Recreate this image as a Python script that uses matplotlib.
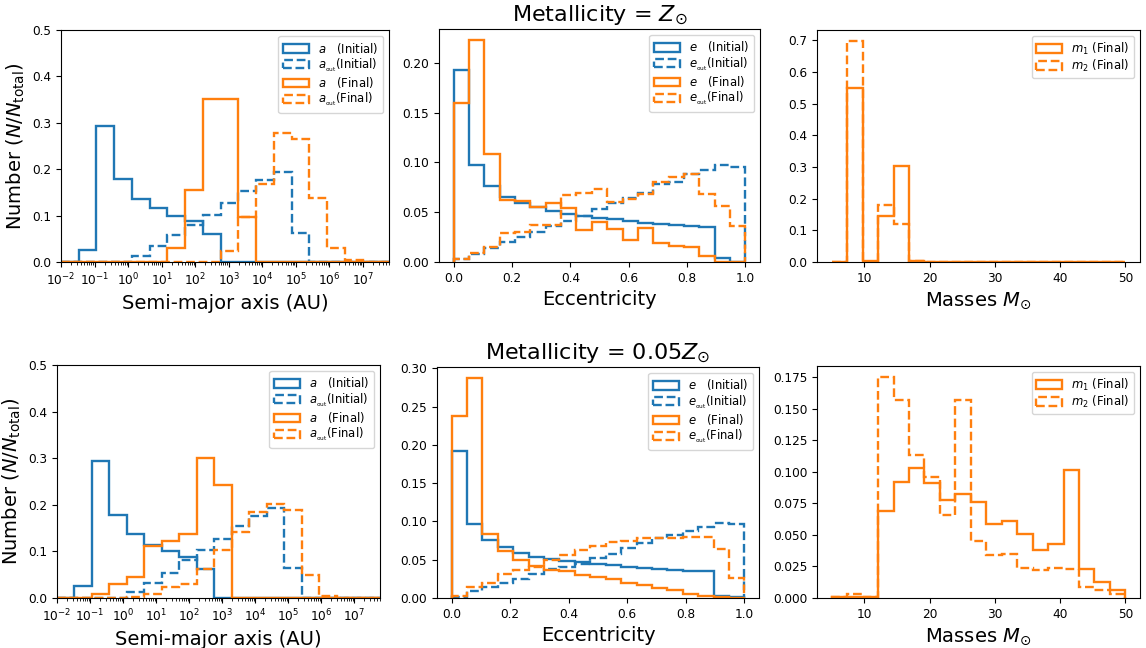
import numpy as np
import matplotlib
matplotlib.use("Agg")
import matplotlib.pyplot as plt
from matplotlib.ticker import LogLocator, NullFormatter

# bin edges (19 bins in every panel)
a_bins = np.logspace(-2, 8.05, 20)
e_bins = np.linspace(0, 1, 20)
m_bins = np.linspace(5, 50, 20)

# ---- Metallicity = Z_sun ----
a_init_sol = [0, 0.025, 0.294, 0.178, 0.135, 0.117, 0.099, 0.088, 0.060, 0, 0, 0, 0, 0, 0, 0, 0, 0, 0]
aout_init_sol = [0, 0, 0, 0.001, 0.013, 0.034, 0.058, 0.080, 0.102, 0.127, 0.153, 0.176, 0.194, 0.063, 0, 0, 0, 0, 0]
a_fin_sol = [0, 0, 0, 0, 0, 0, 0.03, 0.155, 0.352, 0.352, 0.096, 0, 0, 0, 0, 0, 0, 0, 0]
aout_fin_sol = [0, 0, 0, 0, 0, 0, 0, 0, 0, 0.024, 0.097, 0.169, 0.277, 0.265, 0.138, 0.031, 0.004, 0, 0]

e_init_sol = [0.193, 0.097, 0.0765, 0.0657, 0.0597, 0.0547, 0.0516, 0.048, 0.046, 0.044, 0.0427, 0.041,
              0.0396, 0.038, 0.0372, 0.036, 0.035, 0.0037, 0]
eout_init_sol = [0.003, 0.0077, 0.0137, 0.0204, 0.0255, 0.030, 0.036, 0.0416, 0.0463, 0.053, 0.0597, 0.064,
                 0.069, 0.078, 0.080, 0.088, 0.092, 0.0976, 0.095]
e_fin_sol = [0.1596, 0.2227, 0.1083, 0.0624, 0.0612, 0.0547, 0.059, 0.054, 0.032, 0.040, 0.033, 0.022,
             0.034, 0.0188, 0.0164, 0.0154, 0.006, 0, 0]
eout_fin_sol = [0.003, 0.0087, 0.0154, 0.0288, 0.0305, 0.037, 0.037, 0.0674, 0.069, 0.0734, 0.060, 0.063,
                0.068, 0.0805, 0.0855, 0.088, 0.068, 0.0563, 0.0362]

m1_sol = [0, 0.549, 0.002, 0.145, 0.302, 0.002, 0, 0, 0, 0, 0, 0, 0, 0, 0, 0, 0, 0, 0]
m2_sol = [0, 0.698, 0, 0.181, 0.119, 0.002, 0, 0, 0, 0, 0, 0, 0, 0, 0, 0, 0, 0, 0]

# ---- Metallicity = 0.05 Z_sun ----
a_init_low = [0, 0.025, 0.293, 0.178, 0.137, 0.114, 0.101, 0.0885, 0.0626, 0, 0, 0, 0, 0, 0, 0, 0, 0, 0]
aout_init_low = [0, 0, 0, 0.001, 0.0137, 0.032, 0.054, 0.0806, 0.103, 0.126, 0.155, 0.176, 0.194, 0.064, 0, 0, 0, 0, 0]
a_fin_low = [0, 0, 0.009, 0.031, 0.045, 0.111, 0.123, 0.137, 0.300, 0.2425, 0, 0, 0, 0, 0, 0, 0, 0, 0]
aout_fin_low = [0, 0, 0, 0.001, 0.002, 0.009, 0.023, 0.0295, 0.0626, 0.102, 0.142, 0.185, 0.202, 0.188, 0.050,
                0.0036, 0, 0, 0]

e_init_low = [0.192, 0.0966, 0.076, 0.067, 0.059, 0.053, 0.0507, 0.0477, 0.0466, 0.045, 0.0425, 0.040,
              0.0387, 0.0376, 0.037, 0.0356, 0.0347, 0.003, 0.001]
eout_init_low = [0.0013, 0.009, 0.0145, 0.019, 0.025, 0.031, 0.038, 0.0411, 0.0445, 0.052, 0.057, 0.065,
                 0.072, 0.0785, 0.082, 0.0872, 0.093, 0.0976, 0.097]
e_fin_low = [0.2375, 0.2874, 0.0836, 0.062, 0.0495, 0.0418, 0.037, 0.035, 0.0295, 0.0275, 0.025, 0.0195,
             0.0175, 0.0125, 0.011, 0.005, 0.0025, 0.001, 0.0006]
eout_fin_low = [0.002, 0.0139, 0.0195, 0.031, 0.037, 0.041, 0.050, 0.056, 0.0628, 0.068, 0.0737, 0.075,
                0.078, 0.079, 0.078, 0.080, 0.080, 0.064, 0.026]

m1_low = [0.0005, 0.001, 0.001, 0.069, 0.0915, 0.103, 0.091, 0.0777, 0.0825, 0.076, 0.059, 0.061,
          0.051, 0.038, 0.043, 0.101, 0.023, 0.0127, 0.0066]
m2_low = [0.0005, 0.003, 0.001, 0.175, 0.157, 0.113, 0.0957, 0.0655, 0.157, 0.0455, 0.034, 0.035,
          0.0235, 0.022, 0.024, 0.023, 0.009, 0.006, 0.003]

titles = [r"Metallicity = $Z_{\odot}$", r"Metallicity = $0.05Z_{\odot}$"]

BLUE = "#1f77b4"
ORANGE = "#ff7f0e"
LW = 1.7
W, H = 1146, 648

fig = plt.figure(figsize=(W / 100, H / 100), dpi=100)


def add_ax(x0, x1, y0, y1):
    # box given in pixels, y measured from the top
    return fig.add_axes([x0 / W, (H - y1) / H, (x1 - x0) / W, (y1 - y0) / H])


def step(ax, vals, bins, color, ls, label, log=False):
    if log:
        mids = np.sqrt(bins[:-1] * bins[1:])
    else:
        mids = 0.5 * (bins[:-1] + bins[1:])
    ax.hist(mids, bins=bins, weights=vals, histtype="step", color=color,
            ls=ls, lw=LW, label=label)


def legend(ax):
    ax.legend(loc="upper right", fontsize=8.4, labelspacing=0.08, borderpad=0.4,
              handlelength=2.2)


def a_panel(ax, ai, ao, af, aof):
    ax.set_xscale("log")
    step(ax, ai, a_bins, BLUE, "-", r"$a$   (Initial)", log=True)
    step(ax, ao, a_bins, BLUE, "--", r"$a_{_{\rm out}}$(Initial)", log=True)
    step(ax, af, a_bins, ORANGE, "-", r"$a$   (Final)", log=True)
    step(ax, aof, a_bins, ORANGE, "--", r"$a_{_{\rm out}}$(Final)", log=True)
    ax.set_xlim(1e-2, 10 ** 7.78)
    ax.set_ylim(0, 0.5)
    ax.xaxis.set_major_locator(LogLocator(base=10, numticks=30))
    ax.xaxis.set_minor_locator(LogLocator(base=10, subs=np.arange(2, 10), numticks=30))
    ax.xaxis.set_minor_formatter(NullFormatter())
    ax.set_xlabel("Semi-major axis (AU)", fontsize=14)
    ax.set_ylabel(r"Number ($N/N_{\rm total}$)", fontsize=14)
    legend(ax)


def e_panel(ax, ei, eo, ef, eof, title):
    step(ax, ei, e_bins, BLUE, "-", r"$e$   (Initial)")
    step(ax, eo, e_bins, BLUE, "--", r"$e_{_{\rm out}}$(Initial)")
    step(ax, ef, e_bins, ORANGE, "-", r"$e$   (Final)")
    step(ax, eof, e_bins, ORANGE, "--", r"$e_{_{\rm out}}$(Final)")
    ax.set_xlabel("Eccentricity", fontsize=14)
    ax.set_title(title, fontsize=16)
    legend(ax)


def m_panel(ax, m1, m2):
    step(ax, m1, m_bins, ORANGE, "-", r"$m_1$ (Final)")
    step(ax, m2, m_bins, ORANGE, "--", r"$m_2$ (Final)")
    ax.set_xlabel(r"Masses $M_{\odot}$", fontsize=14)
    legend(ax)


axes = [add_ax(61, 389, 30, 262), add_ax(439, 760, 29, 262), add_ax(817, 1140, 30, 262),
        add_ax(57, 380, 365, 598), add_ax(437, 759, 367, 598), add_ax(817, 1140, 366, 598)]

a_panel(axes[0], a_init_sol, aout_init_sol, a_fin_sol, aout_fin_sol)
e_panel(axes[1], e_init_sol, eout_init_sol, e_fin_sol, eout_fin_sol, titles[0])
m_panel(axes[2], m1_sol, m2_sol)
a_panel(axes[3], a_init_low, aout_init_low, a_fin_low, aout_fin_low)
e_panel(axes[4], e_init_low, eout_init_low, e_fin_low, eout_fin_low, titles[1])
m_panel(axes[5], m1_low, m2_low)

for ax in axes:
    ax.tick_params(labelsize=8.7)

fig.savefig("out.png", dpi=100)
